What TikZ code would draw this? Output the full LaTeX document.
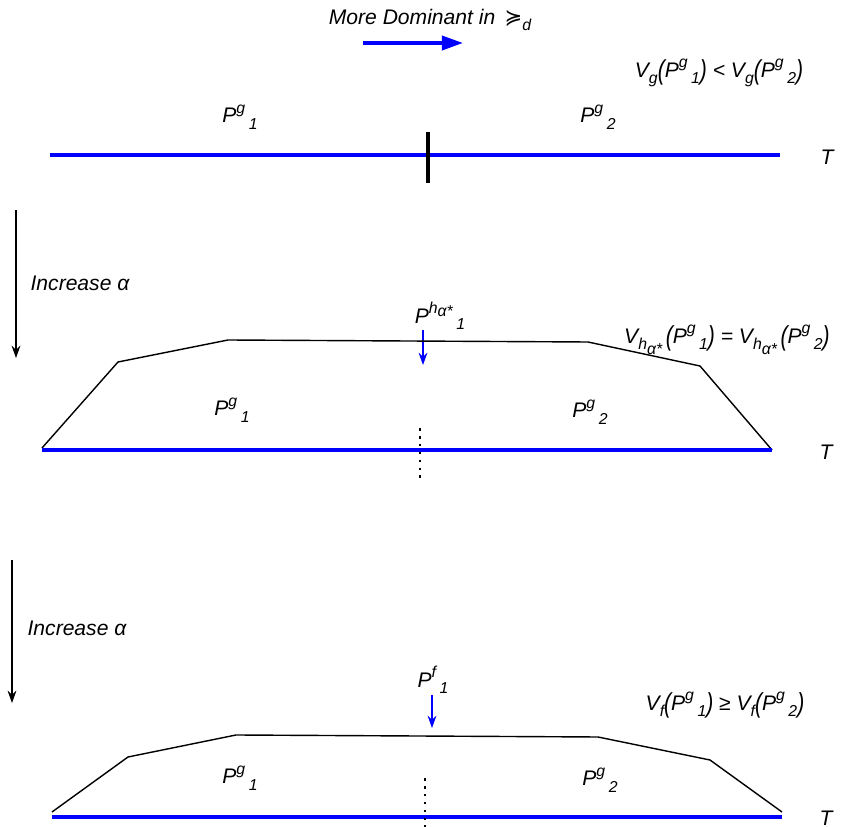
\documentclass[tikz,border=0pt]{standalone}
\usepackage{fontspec}
\setmainfont{Liberation Sans}
\newfontfamily\symfont{DejaVu Sans}
\usepackage{xcolor}
\definecolor{lineblue}{HTML}{0000FF}
\usepackage{tikz}
\usetikzlibrary{
  arrows.meta,
  positioning
}
\newcommand{\up}[1]{\raisebox{0.45em}{\fontsize{9}{10}\selectfont #1}}
\newcommand{\dn}[1]{\,\raisebox{-0.3em}{\fontsize{9}{10}\selectfont #1}}
\newcommand{\lo}[1]{\raisebox{-0.3em}{\fontsize{9}{10}\selectfont #1}}
\newcommand{\lp}{\raisebox{-0.1em}{\scalebox{1}[1.3]{(}}}
\newcommand{\rp}{\raisebox{-0.1em}{\scalebox{1}[1.3]{)}}}

\begin{document}
\begin{tikzpicture}[
  x=0.02cm, y=-0.02cm,
  lbl/.style={font=\fontsize{12}{14}\selectfont\itshape, inner sep=1pt},
  axis/.style={lineblue, line width=2pt},
  hull/.style={black, line width=0.8pt, line join=miter},
  split/.style={black, dash pattern=on 1.5pt off 3pt, line width=0.6pt},
  down/.style={-{Stealth[length=7pt, width=5pt]}, line width=0.7pt},
  bluearr/.style={-{Stealth[length=7pt, width=5pt]}, lineblue, line width=0.7pt},
]
\useasboundingbox (0,0) rectangle (843,827);

% Title
\node[lbl] (dom) at (430,20) {More Dominant in\, {\symfont\upshape ≽}\lo{d}};
\coordinate (domA) at (363,43);
\coordinate (domB) at (463,43);
\draw[-{Triangle[length=12pt, width=8pt]}, lineblue, line width=2pt] (domA) -- (domB);

% Panel 1
\node[lbl] (cmpg) at (719,73) {V\lo{g}\lp P\up{g}\dn{1}\rp\ < V\lo{g}\lp P\up{g}\dn{2}\rp};
\node[lbl] (pa1) at (240,117) {P\up{g}\dn{1}};
\node[lbl] (pa2) at (598,117) {P\up{g}\dn{2}};
\node[lbl] (ta) at (827,157) {T};
\coordinate (la) at (50,155);
\coordinate (ra) at (780,155);
\draw[axis] (la) -- (ra);
\coordinate (cutA) at (428,132);
\coordinate (cutB) at (428,183);
\draw[black, line width=1.8pt] (cutA) -- (cutB);

% Increase alpha (1)
\coordinate (inc1a) at (16,210);
\coordinate (inc1b) at (16,358);
\draw[down] (inc1a) -- (inc1b);
\node[lbl] (inc1) at (80,283) {Increase α};

% Panel 2
\node[lbl] (ph) at (440,316) {P\up{h}\raisebox{0.3em}{\fontsize{9}{10}\selectfont α*}\dn{1}};
\coordinate (phB) at (423,365);
\draw[bluearr] (423,330) -- (phB);
\node[lbl] (cmph) at (727,340) {V\lo{h}\raisebox{-0.55em}{\fontsize{9}{10}\selectfont α*}\,\lp P\up{g}\dn{1}\rp\ = V\lo{h}\raisebox{-0.55em}{\fontsize{9}{10}\selectfont α*}\,\lp P\up{g}\dn{2}\rp};
\draw[hull] (42,448) -- (118,362) -- (228,340) -- (588,342) -- (700,366) -- (772,450);
\coordinate (lb) at (42,450);
\coordinate (rb) at (772,450);
\draw[axis] (lb) -- (rb);
\draw[split] (420,428) -- (420,478);
\node[lbl] (pb1) at (232,410) {P\up{g}\dn{1}};
\node[lbl] (pb2) at (590,412) {P\up{g}\dn{2}};
\node[lbl] (tb) at (826,452) {T};

% Increase alpha (2)
\coordinate (inc2a) at (12,560);
\coordinate (inc2b) at (12,703);
\draw[down] (inc2a) -- (inc2b);
\node[lbl] (inc2) at (77,628) {Increase α};

% Panel 3
\node[lbl] (pf) at (433,680) {P\up{f}\dn{1}};
\coordinate (pfB) at (432,728);
\draw[bluearr] (432,695) -- (pfB);
\node[lbl] (cmpf) at (725,705) {V\lo{f}\lp P\up{g}\dn{1}\rp\ ≥\ V\lo{f}\lp P\up{g}\dn{2}\rp};
\draw[hull] (52,812) -- (128,757) -- (236,735) -- (598,737) -- (710,760) -- (782,812);
\coordinate (lc) at (52,817);
\coordinate (rc) at (782,817);
\draw[axis] (lc) -- (rc);
\draw[split] (425,778) -- (425,827);
\node[lbl] (pc1) at (240,778) {P\up{g}\dn{1}};
\node[lbl] (pc2) at (600,780) {P\up{g}\dn{2}};
\node[lbl] (tc) at (826,818) {T};

\end{tikzpicture}
\end{document}
